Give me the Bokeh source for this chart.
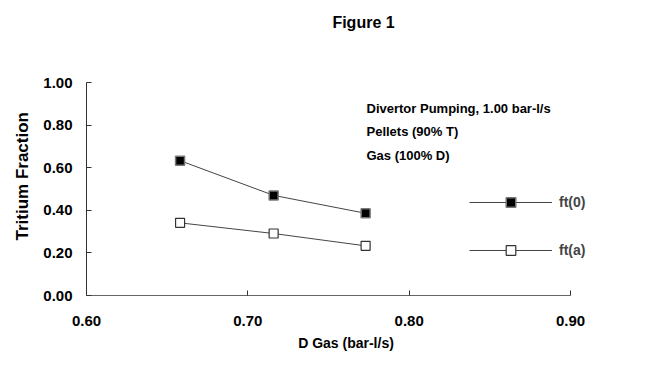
from bokeh.plotting import figure
from bokeh.models import (Range1d, FixedTicker, NumeralTickFormatter, Label,
                          Legend, LegendItem, Title)
from bokeh.embed import file_html
from bokeh.resources import INLINE

# ---- data ----
d_gas = [0.658, 0.716, 0.773]
ft_0 = [0.633, 0.470, 0.386]
ft_a = [0.341, 0.291, 0.233]
x_ticks = [0.60, 0.70, 0.80, 0.90]
y_ticks = [0.00, 0.20, 0.40, 0.60, 0.80, 1.00]
title_text = "Figure 1"
x_label = "D Gas (bar-l/s)"
y_label = "Tritium Fraction"
note_lines = ["Divertor Pumping, 1.00 bar-l/s", "Pellets (90% T)", "Gas (100% D)"]
series_names = ["ft(0)", "ft(a)"]

FONT = "Liberation Sans"

# frame: axis part 484 x 213 px, plus extra room right (legend labels) and top (title)
AXIS_W, EXTRA_W = 484, 35
AXIS_H, EXTRA_H = 213, 82
x_start, x_stop = x_ticks[0], x_ticks[-1]
y_start, y_stop = y_ticks[0], y_ticks[-1]
x_end = x_start + (x_stop - x_start) * (AXIS_W + EXTRA_W) / AXIS_W
y_end = y_start + (y_stop - y_start) * (AXIS_H + EXTRA_H) / AXIS_H

p = figure(width=654, height=354, output_backend="svg", toolbar_location=None,
           x_range=Range1d(x_start, x_end), y_range=Range1d(y_start, y_end),
           min_border_left=86, min_border_right=49, min_border_top=0,
           min_border_bottom=59)
p.outline_line_color = None
p.grid.visible = False
p.background_fill_color = "white"
p.border_fill_color = "white"

for ax in (p.xaxis[0], p.yaxis[0]):
    ax.major_label_text_font = FONT
    ax.major_label_text_font_style = "bold"
    ax.major_label_text_font_size = "15px"
    ax.major_label_text_color = "black"
    ax.major_tick_in = 5
    ax.major_tick_out = 0
    ax.minor_tick_line_color = None
    ax.axis_line_color = "#333333"
    ax.major_tick_line_color = "#333333"
    ax.formatter = NumeralTickFormatter(format="0.00")

p.xaxis[0].ticker = FixedTicker(ticks=x_ticks)
p.xaxis[0].bounds = (x_start, x_stop)
p.yaxis[0].ticker = FixedTicker(ticks=y_ticks)
p.yaxis[0].bounds = (y_start, y_stop)
p.xaxis[0].axis_line_color = "#666666"
p.xaxis[0].major_label_standoff = 20
p.yaxis[0].major_label_standoff = 14
p.xaxis[0].axis_label = x_label
p.xaxis[0].axis_label_text_font = FONT
p.xaxis[0].axis_label_text_font_style = "bold"
p.xaxis[0].axis_label_text_font_size = "14px"
p.xaxis[0].axis_label_text_color = "black"
p.xaxis[0].axis_label_standoff = 6

# series
l0 = p.line(d_gas, ft_0, line_color="#444444", line_width=1)
s0 = p.scatter(d_gas, ft_0, marker="square", size=9, fill_color="black",
               line_color="#777777", line_width=1.5)
la = p.line(d_gas, ft_a, line_color="#444444", line_width=1)
sa = p.scatter(d_gas, ft_a, marker="square", size=9, fill_color="white",
               line_color="#333333", line_width=1.2)

legend = Legend(items=[LegendItem(label=series_names[0], renderers=[l0, s0]),
                       LegendItem(label=series_names[1], renderers=[la, sa])],
                location=(383, 33), orientation="vertical",
                glyph_width=83, glyph_height=24, label_height=24,
                label_width=30, spacing=24, padding=0, margin=0,
                label_standoff=7, border_line_alpha=0,
                background_fill_alpha=0,
                label_text_font=FONT, label_text_font_style="bold",
                label_text_font_size="14px")
p.add_layout(legend, "center")

# title (inside the extra room at the top of the frame)
p.add_layout(Label(x=277, y=273, x_units="screen", y_units="screen",
                   text=title_text, text_align="center", text_baseline="middle",
                   text_font=FONT, text_font_style="bold", text_font_size="16px",
                   text_color="black"))

# y label as a side title on the left
p.add_layout(Title(text=y_label, align="left", offset=55, standoff=17,
                   text_font=FONT, text_font_style="bold",
                   text_font_size="17px", text_color="black"), "left")

# notes
for t, yy in zip(note_lines, [187, 164, 140]):
    p.add_layout(Label(x=280, y=yy, x_units="screen", y_units="screen",
                       text=t, text_align="left", text_baseline="middle",
                       text_font=FONT, text_font_style="bold",
                       text_font_size="13px", text_color="black"))

open("out.html", "w").write(file_html(p, INLINE))
